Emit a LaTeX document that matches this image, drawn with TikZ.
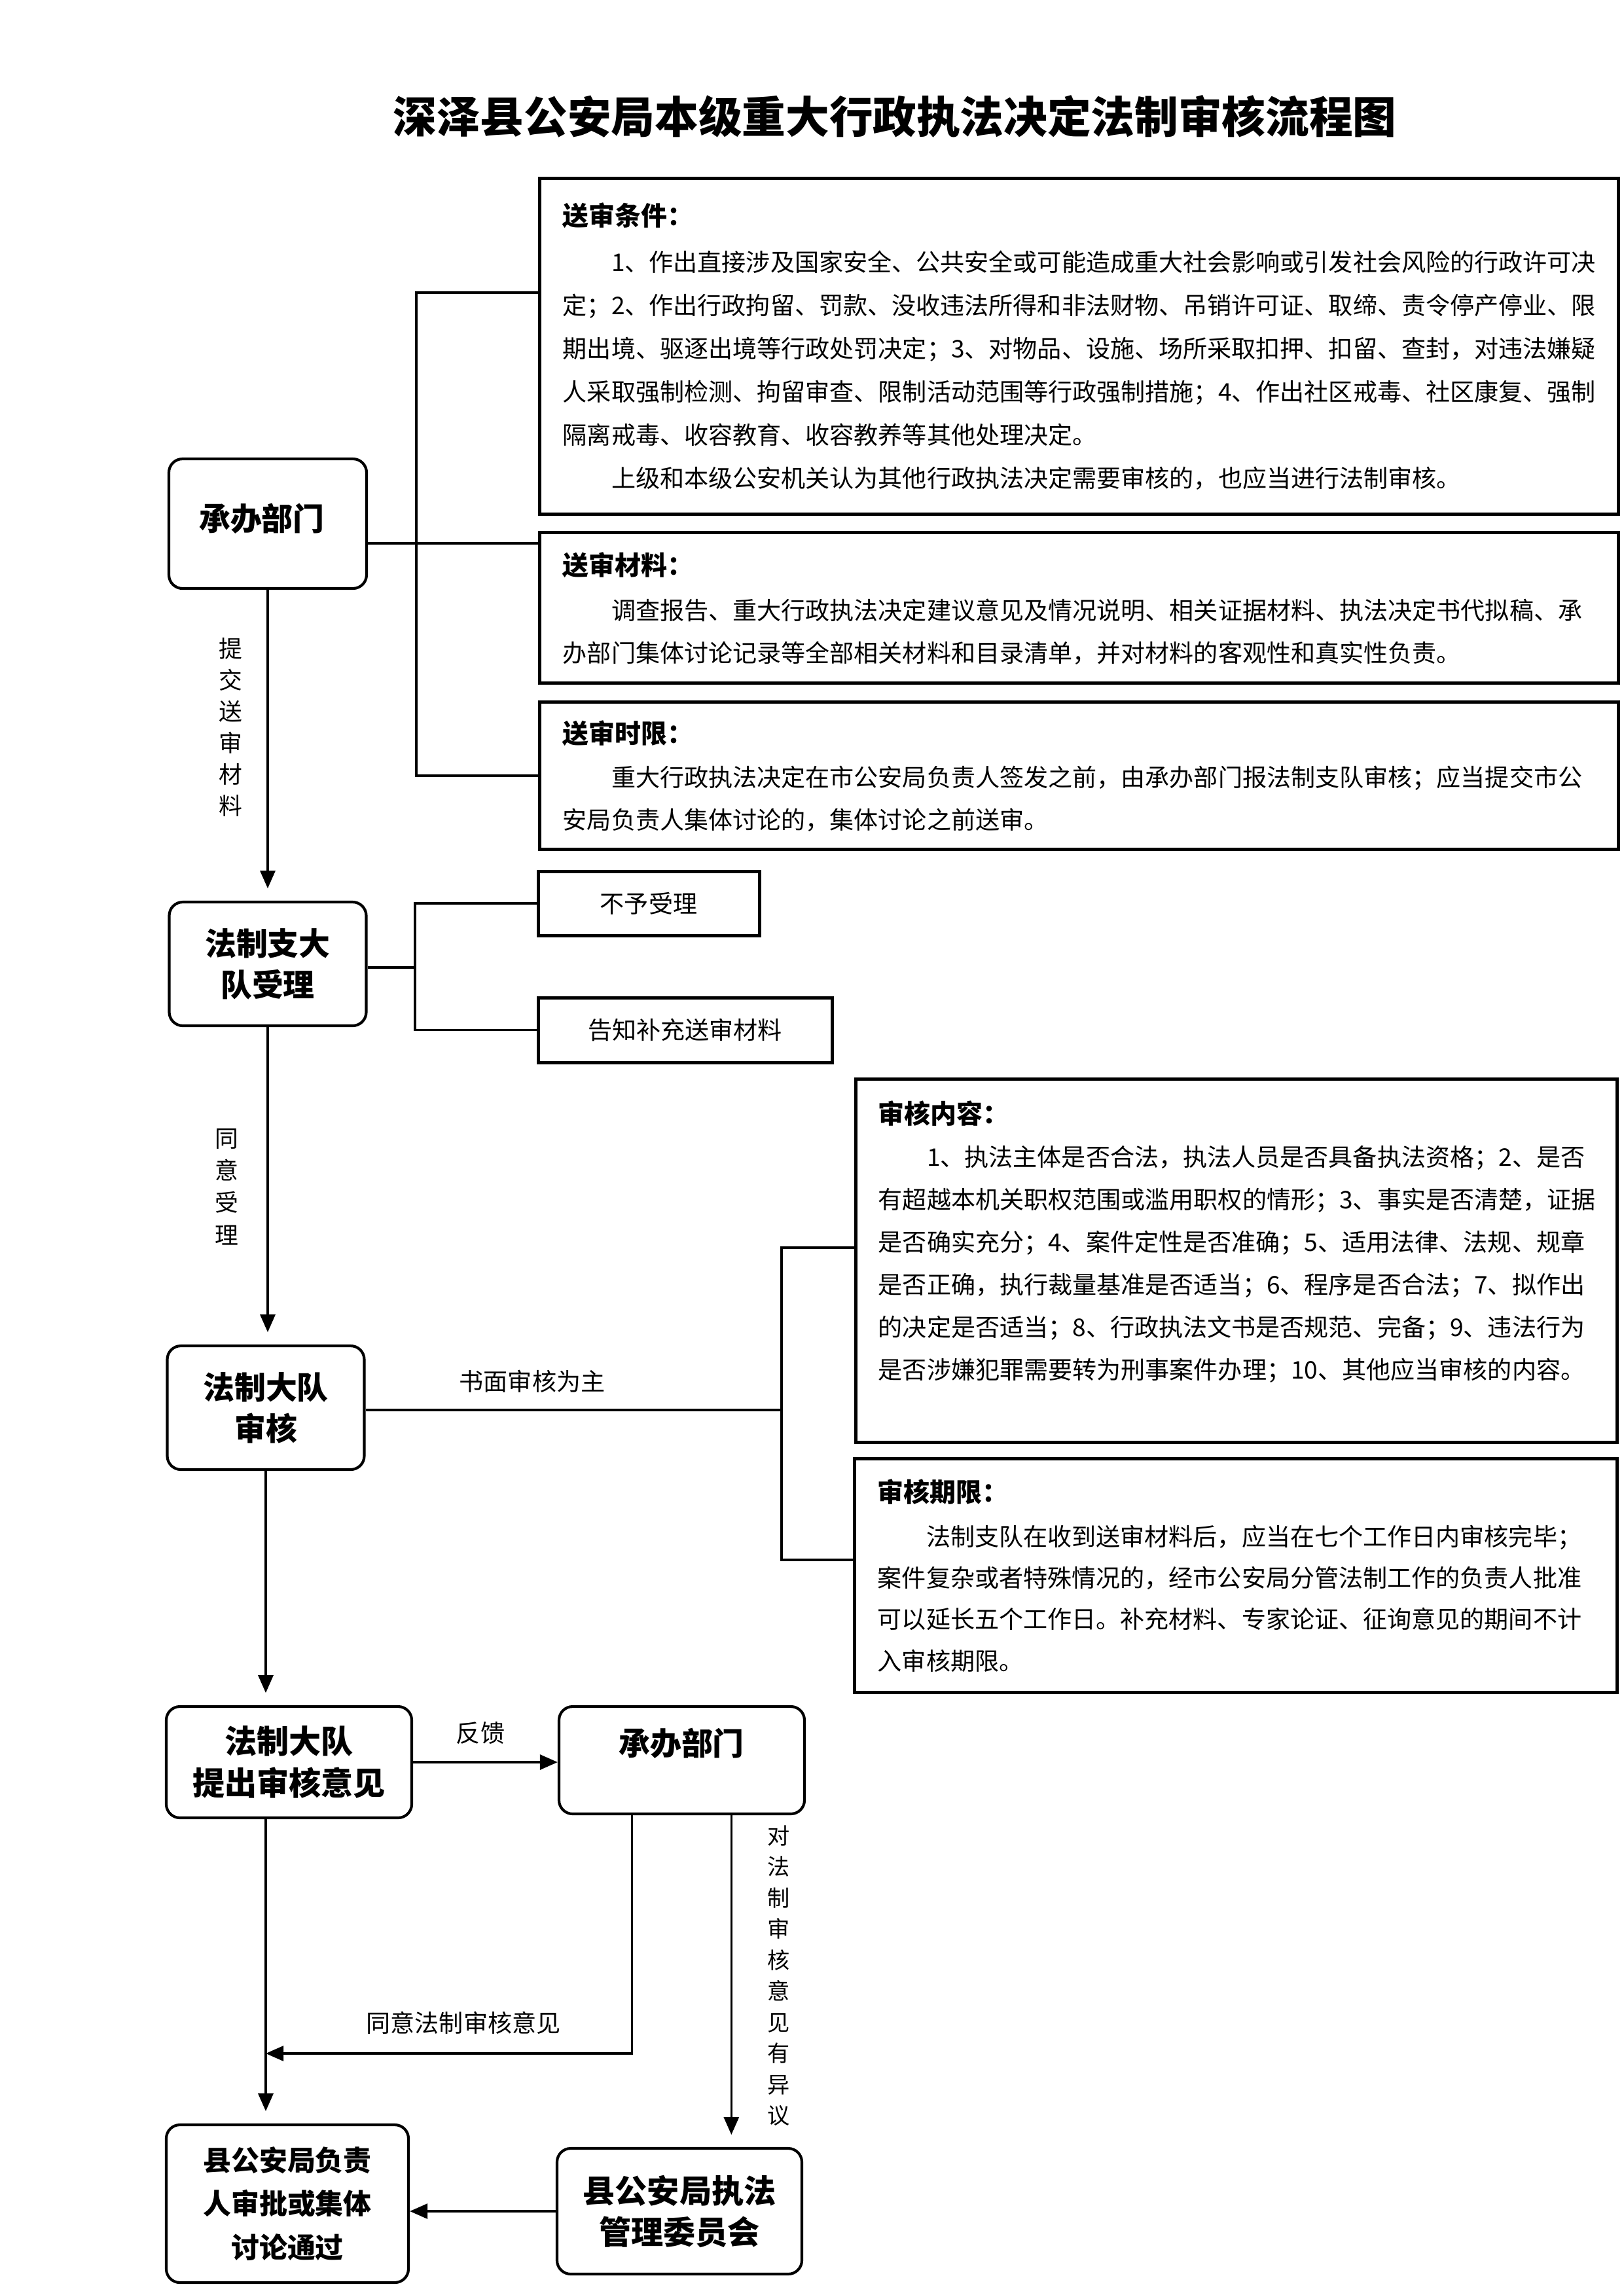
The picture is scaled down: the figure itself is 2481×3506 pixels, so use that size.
\documentclass[tikz,border=0pt]{standalone}
\usepackage{fontspec}
\setmainfont{Noto Sans CJK SC}
\usetikzlibrary{arrows.meta,calc}
\newcommand\fsz[2]{\fontsize{#1}{#2}\selectfont}
\begin{document}
\begin{tikzpicture}[x=0.24pt,y=-0.24pt,
  sz/.style 2 args={minimum width=#1*0.24pt,minimum height=#2*0.24pt},
  ln/.style={line width=0.8pt},
  arr/.style={line width=0.8pt,-{Triangle[length=6.5pt,width=5.5pt]}},
  gap/.style={shorten >=4.5pt},
  flow/.style={draw,line width=1pt,rounded corners=5pt,align=center,inner sep=0pt,font=\bfseries\fsz{11.5pt}{15.2pt}},
  info/.style={draw,line width=1.2pt,inner sep=0pt},
  body/.style={align=left,anchor=base west,inner sep=0pt,font=\fsz{8.9pt}{15.6pt}},
  lab/.style={inner sep=0pt,font=\fsz{8.9pt}{11pt}},
  vlab/.style={inner sep=0pt,align=center,font=\fsz{8.6pt}{11.5pt}},
]
\useasboundingbox (0,0) rectangle (2481,3506);

% title
\node[inner sep=0pt,font=\bfseries\fsz{16pt}{18pt}] (title) at (1367,178) {深泽县公安局本级重大行政执法决定法制审核流程图};

% flow boxes
\node[flow,sz={302}{198}] (cb1) at (409,800) {};
\node[inner sep=0pt,font=\bfseries\fsz{11.5pt}{15pt}] (cb1t) at (400,792) {承办部门};
\node[flow,sz={301}{189}] (zd) at (409,1472.5) {法制支大\\队受理};
\node[flow,sz={301}{189}] (sh) at (406,2150.5) {法制大队\\审核};
\node[flow,sz={375}{170},font=\bfseries\fsz{11.8pt}{15.4pt}] (tc) at (441.5,2692) {法制大队\\提出审核意见};
\node[flow,sz={375}{164}] (cb2) at (1041.5,2689) {};
\node[inner sep=0pt,font=\bfseries\fsz{11.5pt}{15pt}] (cb2t) at (1041,2663) {承办部门};
\node[flow,sz={370}{241},font=\bfseries\fsz{10.3pt}{16pt}] (fz) at (439,3366.5) {县公安局负责\\人审批或集体\\讨论通过};
\node[flow,sz={374}{192},font=\bfseries\fsz{11.8pt}{15.1pt}] (wy) at (1038,3378) {县公安局执法\\管理委员会};

% info boxes
\node[info,sz={1648}{513}] (b1) at (1648,528.5) {};
\node[info,sz={1648}{230}] (b2) at (1648,928) {};
\node[info,sz={1648}{225}] (b3) at (1648,1184.5) {};
\node[info,sz={338}{98},font=\fsz{8.9pt}{11pt}] (b4) at (991,1380) {不予受理};
\node[info,sz={449}{99},font=\fsz{8.9pt}{11pt}] (b5) at (1046.5,1573.5) {告知补充送审材料};
\node[info,sz={1163}{555}] (b6) at (1888.5,1925.5) {};
\node[info,sz={1165}{357}] (b7) at (1887.5,2406.5) {};

% info texts (anchored at the baseline of the last line)
\node[body,font=\fsz{8.9pt}{15.8pt}] (b1t) at (859,744) {{\bfseries\fsz{9.6pt}{15.8pt}送审条件：}\\[1.2pt]%
\hspace*{2em}1、作出直接涉及国家安全、公共安全或可能造成重大社会影响或引发社会风险的行政许可决\\%
定；2、作出行政拘留、罚款、没收违法所得和非法财物、吊销许可证、取缔、责令停产停业、限\\%
期出境、驱逐出境等行政处罚决定；3、对物品、设施、场所采取扣押、扣留、查封，对违法嫌疑\\%
人采取强制检测、拘留审查、限制活动范围等行政强制措施；4、作出社区戒毒、社区康复、强制\\%
隔离戒毒、收容教育、收容教养等其他处理决定。\\%
\hspace*{2em}上级和本级公安机关认为其他行政执法决定需要审核的，也应当进行法制审核。};
\node[body,font=\fsz{8.9pt}{15.4pt}] (b2t) at (859,1011) {{\bfseries\fsz{9.6pt}{15.4pt}送审材料：}\\[1pt]%
\hspace*{2em}调查报告、重大行政执法决定建议意见及情况说明、相关证据材料、执法决定书代拟稿、承\\%
办部门集体讨论记录等全部相关材料和目录清单，并对材料的客观性和真实性负责。};
\node[body,font=\fsz{8.9pt}{15.4pt}] (b3t) at (859,1266) {{\bfseries\fsz{9.6pt}{15.4pt}送审时限：}\\[0.5pt]%
\hspace*{2em}重大行政执法决定在市公安局负责人签发之前，由承办部门报法制支队审核；应当提交市公\\%
安局负责人集体讨论的，集体讨论之前送审。};
\node[body,font=\fsz{8.9pt}{15.6pt}] (b6t) at (1341,2106) {{\bfseries\fsz{9.6pt}{15.6pt}审核内容：}\\%
\hspace*{2em}1、执法主体是否合法，执法人员是否具备执法资格；2、是否\\%
有超越本机关职权范围或滥用职权的情形；3、事实是否清楚，证据\\%
是否确实充分；4、案件定性是否准确；5、适用法律、法规、规章\\%
是否正确，执行裁量基准是否适当；6、程序是否合法；7、拟作出\\%
的决定是否适当；8、行政执法文书是否规范、完备；9、违法行为\\%
是否涉嫌犯罪需要转为刑事案件办理；10、其他应当审核的内容。};
\node[body,font=\fsz{8.9pt}{15.2pt}] (b7t) at (1340,2551) {{\bfseries\fsz{9.6pt}{15.2pt}审核期限：}\\[0.8pt]%
\hspace*{2em}法制支队在收到送审材料后，应当在七个工作日内审核完毕；\\%
案件复杂或者特殊情况的，经市公安局分管法制工作的负责人批准\\%
可以延长五个工作日。补充材料、专家论证、征询意见的期间不计\\%
入审核期限。};

% connectors: top section
\coordinate (m1) at (600,830);
\draw[ln] (m1 -| cb1.east) -- (m1 -| b2.west);
\coordinate (k1t) at (636,447);
\coordinate (k1b) at (636,1185);
\draw[ln] (k1t -| b1.west) -- (k1t) -- (k1b) -- (k1b -| b3.west);
\draw[arr,gap] (cb1.south) -- (cb1.south |- zd.north);
\node[vlab] (lab1) at (352,1111) {提\\交\\送\\审\\材\\料};

% second section
\coordinate (k2) at (634,1478);
\draw[ln] (zd.east |- k2) -- (k2);
\draw[ln] (b4.west) -- (b4.west -| k2) -- (b5.west -| k2) -- (b5.west);
\draw[arr,gap] (zd.south) -- (zd.south |- sh.north);
\node[vlab,font=\fsz{8.6pt}{11.8pt}] (lab2) at (346,1813) {同\\意\\受\\理};

% third section
\coordinate (k3) at (1194,2154);
\coordinate (k3t) at (1194,1906);
\coordinate (k3b) at (1194,2383);
\draw[ln] (sh.east |- k3) -- (k3);
\draw[ln] (k3t -| b6.west) -- (k3t) -- (k3b) -- (k3b -| b7.west);
\node[lab] (lab3) at (813,2110) {书面审核为主};
\draw[arr,gap] (sh.south) -- (sh.south |- tc.north);

% bottom section
\draw[arr] (tc.east) -- (tc.east -| cb2.west);
\node[lab] (lab4) at (734,2647) {反馈};
\draw[arr,gap] (tc.south -| sh.south) -- (fz.north -| sh.south);
\coordinate (cbl) at ($(cb2.south west)!0.3!(cb2.south east)$);
\coordinate (cbr) at ($(cb2.south west)!0.7!(cb2.south east)$);
\coordinate (agr) at (700,3137);
\draw[arr] (cbl) -- (cbl |- agr) -- (agr -| sh.south);
\node[lab] (lab5) at (708,3090) {同意法制审核意见};
\draw[arr,gap] (cbr) -- (cbr |- wy.north);
\node[vlab,font=\fsz{8.2pt}{11.4pt}] (lab6) at (1190,3018) {对\\法\\制\\审\\核\\意\\见\\有\\异\\议};
\draw[arr] (wy.west) -- (wy.west -| fz.east);
\end{tikzpicture}
\end{document}
